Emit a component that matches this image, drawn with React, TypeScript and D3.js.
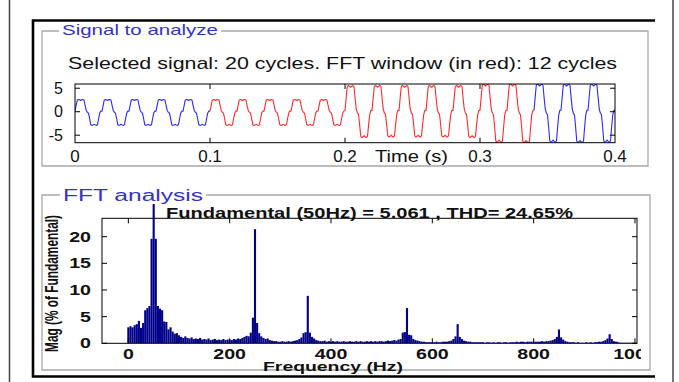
import * as d3 from "d3";

// ---- time signal (0 .. 0.4 s, 20 cycles of 50 Hz) ----
const period = 0.02;
// one cycle of the waveform, normalised, read every 15 degrees
const cycleShape = [
  0.05, 0.5, 0.95, 1.0, 0.97, 0.93, 0.97, 1.0, 0.95, 0.5, 0.1, -0.05,
  -0.1, -0.5, -0.95, -1.0, -0.97, -0.93, -0.97, -1.0, -0.95, -0.5, -0.1, 0.05,
];
// positive and negative peak of every cycle
const cyclePeakPos = [2.6, 2.6, 2.6, 2.6, 2.6, 2.6, 2.6, 2.6, 2.6, 2.6,
  5.6, 5.6, 5.6, 5.6, 5.6, 5.9, 5.9, 5.9, 5.9, 5.9];
const cyclePeakNeg = [-2.9, -2.9, -2.9, -2.9, -2.9, -2.9, -2.9, -2.9, -2.9, -2.9,
  -5.5, -5.4, -5.4, -5.4, -5.5, -6.5, -6.6, -6.5, -6.6, -6.5];
const fftWindow = [0.1, 0.34];
const timeTicks = [0, 0.1, 0.2, 0.3, 0.4];
const sigTicks = [-5, 0, 5];

// ---- FFT magnitude (% of fundamental), bins every 1000/240 Hz ----
const binStep = 1000 / 240;
const fftMag = [
  3.0, 3.2, 3.0, 3.4, 3.6, 4.2, 2.9, 3.8, 6.2, 6.6, 7.0, 19.6, 100, 19.6, 7.0, 6.5, 6.2, 4.1, 4.0, 2.6, 3.0, 2.2, 1.8, 1.9,
  1.5, 1.2, 1.0, 1.3, 1.0, 0.9, 1.1, 0.8, 0.9, 0.8, 1.0, 0.7, 0.8, 0.7, 0.9, 0.6, 0.7, 0.8, 0.6, 0.7, 0.6, 0.8, 0.6, 0.7,
  0.7, 0.6, 0.8, 0.7, 0.9, 0.8, 1.0, 1.2, 1.4, 1.3, 2.0, 4.8, 21.4, 3.8, 1.9, 1.3, 1.0, 0.8, 0.9, 0.6, 0.5, 0.4, 0.4, 0.3,
  0.3, 0.4, 0.3, 0.3, 0.4, 0.3, 0.4, 0.5, 0.6, 0.8, 1.1, 1.9, 2.1, 8.9, 2.0, 1.2, 0.9, 0.6, 0.5, 0.4, 0.4, 0.5, 0.3, 0.4,
  0.3, 0.4, 0.3, 0.4, 0.3, 0.3, 0.4, 0.3, 0.3, 0.4, 0.3, 0.3, 0.4, 0.3, 0.4, 0.3, 0.3, 0.4, 0.3, 0.4, 0.3, 0.4, 0.3, 0.4,
  0.4, 0.3, 0.4, 0.5, 0.4, 0.5, 0.6, 0.5, 0.7, 0.8, 2.0, 2.1, 6.6, 1.6, 1.5, 0.8, 0.6, 0.5, 0.4, 0.3, 0.3, 0.2, 0.2, 0.2,
  0.2, 0.2, 0.3, 0.2, 0.2, 0.3, 0.3, 0.3, 0.4, 0.5, 0.8, 1.3, 3.6, 1.2, 0.8, 0.5, 0.4, 0.3, 0.3, 0.2, 0.2, 0.2, 0.2, 0.2,
  0.2, 0.1, 0.2, 0.2, 0.1, 0.2, 0.1, 0.2, 0.2, 0.1, 0.2, 0.2, 0.1, 0.2, 0.2, 0.2, 0.3, 0.2, 0.3, 0.3, 0.2, 0.3, 0.3, 0.3,
  0.3, 0.3, 0.3, 0.3, 0.4, 0.3, 0.4, 0.4, 0.5, 0.6, 0.8, 1.2, 2.6, 1.1, 0.7, 0.4, 0.3, 0.2, 0.2, 0.2, 0.1, 0.2, 0.1, 0.1,
  0.1, 0.2, 0.1, 0.2, 0.1, 0.2, 0.2, 0.3, 0.3, 0.4, 0.6, 0.9, 1.7, 0.8, 0.4, 0.3, 0.2, 0.1, 0.1, 0.1, 0.1, 0.1, 0.1, 0.1, 0.1,
];
const freqTicks = [0, 200, 400, 600, 800, 1000];
const magTicks = [0, 5, 10, 15, 20];

const FONT = "'Liberation Sans', Arial, Helvetica, sans-serif";
const BLUE_TITLE = "#3434c4";
const BAR = "#000088";

type P = { t: number; v: number };

// build the samples from the cycle shape and the per-cycle peaks
const signal: P[] = [];
cyclePeakPos.forEach((pos, c) => {
  const neg = Math.abs(cyclePeakNeg[c]);
  cycleShape.forEach((s, i) => {
    signal.push({ t: c * period + (i * period) / cycleShape.length, v: s >= 0 ? s * pos : s * neg });
  });
});
signal.push({ t: cyclePeakPos.length * period, v: cycleShape[0] * cyclePeakPos[cyclePeakPos.length - 1] });
const eps = 1e-9;
const before = signal.filter(d => d.t <= fftWindow[0] + eps);
const windowed = signal.filter(d => d.t >= fftWindow[0] - eps && d.t <= fftWindow[1] + eps);
const after = signal.filter(d => d.t >= fftWindow[1] - eps);

function Txt(props: {
  x: number; y: number; children: any; size: number; sx?: number; anchor?: string;
  weight?: any; fill?: string; len?: number;
}) {
  const { x, y, size, sx = 1, anchor = "start", weight = "normal", fill = "#111", len } = props;
  return (
    <text
      transform={`translate(${x},${y}) scale(${sx},1)`}
      textAnchor={anchor as any}
      fontSize={size}
      fontWeight={weight}
      fill={fill}
      fontFamily={FONT}
      textLength={len}
      lengthAdjust={len ? "spacingAndGlyphs" : undefined}
    >
      {props.children}
    </text>
  );
}

export default function App() {
  // top axes
  const xt = d3.scaleLinear().domain([0, 0.4]).range([75, 615]);
  const yt = d3.scaleLinear().domain([-6.6, 5.9]).range([142.7, 84]);
  const line = d3.line<P>().x(d => xt(d.t)).y(d => yt(d.v));

  // fft axes
  const xf = d3.scaleLinear().domain([-52, 1004]).range([102, 637]);
  const yf = d3.scaleLinear().domain([0, 23.45]).range([343.3, 218.3]);
  const bw = xf(binStep) - xf(0);

  const tk = 5;

  return (
    <svg width={679} height={382} style={{ position: "absolute", left: 0, top: 0, background: "#fff" }}>
      <defs>
        <clipPath id="sigClip">
          <rect x={75} y={84} width={540} height={58.7} />
        </clipPath>
        <clipPath id="fftClip">
          <rect x={102} y={204} width={535} height={139.3} />
        </clipPath>
        <clipPath id="panelClip">
          <rect x={0} y={0} width={641} height={382} />
        </clipPath>
      </defs>
      <rect width={679} height={382} fill="#fff" />

      {/* outer lines and black frame */}
      <line x1={9.5} x2={9.5} y1={0} y2={382} stroke="#444" strokeWidth={1.5} />
      <line x1={673} x2={673} y1={0} y2={382} stroke="#444" strokeWidth={1.5} />
      <path d="M655,20.5H33V376.5H655" fill="none" stroke="#000" strokeWidth={2.6} />

      {/* ---- Signal to analyze panel ---- */}
      <path d="M59,31H42V166H648V31H221" fill="none" stroke="#a8a8a8" strokeWidth={1.3} />
      <Txt x={62} y={35} size={15} fill={BLUE_TITLE} len={156}>Signal to analyze</Txt>
      <Txt x={68} y={68.5} size={17} len={549}>Selected signal: 20 cycles. FFT window (in red): 12 cycles</Txt>

      <g clipPath="url(#sigClip)" fill="none" strokeWidth={1.1}>
        <path d={line(before) ?? ""} stroke="#2a2aff" />
        <path d={line(after) ?? ""} stroke="#2a2aff" />
        <path d={line(windowed) ?? ""} stroke="#ff2a2a" />
      </g>
      <rect x={75} y={84} width={540} height={58.7} fill="none" stroke="#000" strokeWidth={1} />
      {timeTicks.slice(1, -1).map(t => (
        <g key={t}>
          <line x1={xt(t)} x2={xt(t)} y1={84} y2={84 + tk} stroke="#000" />
          <line x1={xt(t)} x2={xt(t)} y1={142.7} y2={142.7 - tk} stroke="#000" />
        </g>
      ))}
      {sigTicks.map(v => (
        <g key={v}>
          <line x1={75} x2={75 + tk} y1={yt(v)} y2={yt(v)} stroke="#000" />
          <line x1={615} x2={615 - tk} y1={yt(v)} y2={yt(v)} stroke="#000" />
          <Txt x={63} y={yt(v) + 5.5} size={16} anchor="end">{String(v)}</Txt>
        </g>
      ))}
      {timeTicks.map(t => (
        <Txt key={t} x={xt(t)} y={162} size={17} anchor="middle">{String(t)}</Txt>
      ))}
      <Txt x={375} y={162} size={17} len={73}>Time (s)</Txt>

      {/* ---- FFT analysis panel ---- */}
      <path d="M60,195H42V370H650V195H206" fill="none" stroke="#a8a8a8" strokeWidth={1.3} />
      <Txt x={63} y={200.5} size={16} fill={BLUE_TITLE} len={140}>FFT analysis</Txt>
      <Txt x={166} y={217.5} size={14} weight="bold" len={407}>
        Fundamental (50Hz) = 5.061 , THD= 24.65%
      </Txt>

      <g clipPath="url(#fftClip)" fill={BAR}>
        {fftMag.map((m, k) => (
          <rect key={k} x={xf(k * binStep) - bw / 2} y={yf(m)} width={bw} height={yf(0) - yf(m)} />
        ))}
      </g>
      <rect x={102} y={218.3} width={535} height={125} fill="none" stroke="#000" strokeWidth={1} />
      {freqTicks.map(f => (
        <g key={f}>
          <line x1={xf(f)} x2={xf(f)} y1={218.3} y2={218.3 + tk} stroke="#000" />
          <line x1={xf(f)} x2={xf(f)} y1={343.3} y2={343.3 - tk} stroke="#000" />
        </g>
      ))}
      <g clipPath="url(#panelClip)">
        {freqTicks.map(f => (
          <Txt key={f} x={xf(f)} y={358.5} size={14} sx={1.4} anchor="middle" weight="bold">
            {String(f)}
          </Txt>
        ))}
      </g>
      {magTicks.map(m => (
        <g key={m}>
          <line x1={102} x2={102 + tk} y1={yf(m)} y2={yf(m)} stroke="#000" />
          <line x1={637} x2={637 - tk} y1={yf(m)} y2={yf(m)} stroke="#000" />
          <Txt x={91} y={yf(m) + 5} size={14} sx={1.4} anchor="end" weight="bold">{String(m)}</Txt>
        </g>
      ))}
      <Txt x={263} y={370.5} size={12} weight="bold" len={140}>Frequency (Hz)</Txt>
      <g transform="translate(58,283.5) scale(1.4,1) rotate(-90)">
        <text textAnchor="middle" fontSize={13} fontWeight="bold" fontFamily={FONT} fill="#111"
          textLength={137} lengthAdjust="spacingAndGlyphs">
          Mag (% of Fundamental)
        </text>
      </g>
    </svg>
  );
}
